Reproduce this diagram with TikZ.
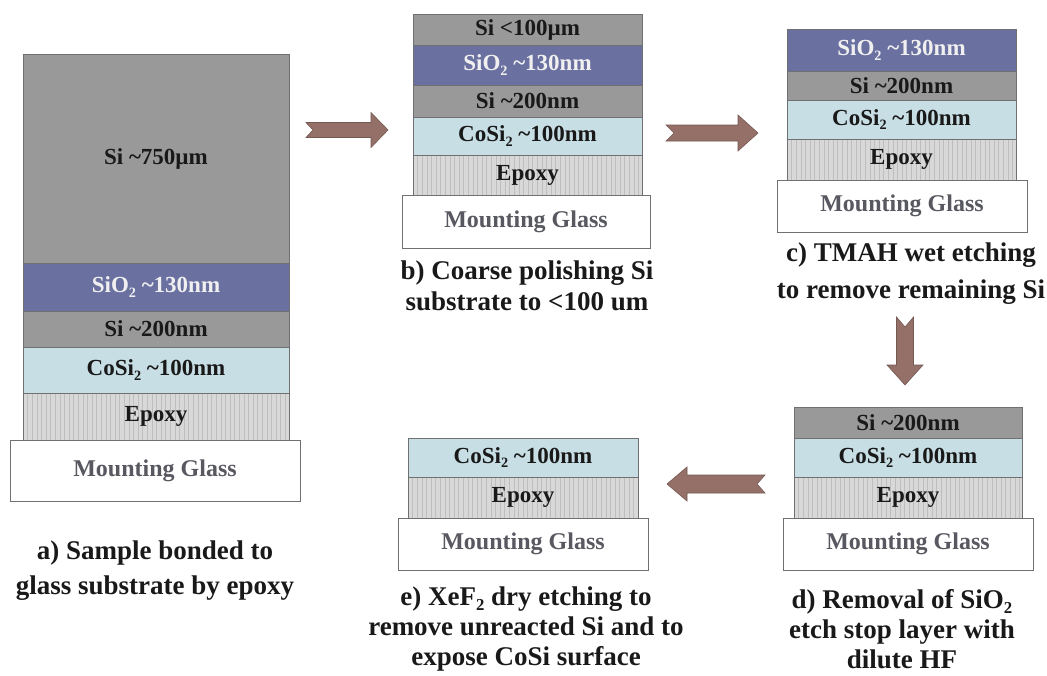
\documentclass[tikz,border=0pt]{standalone}
\usepackage{fontspec}
\usepackage{graphicx}
\setmainfont{Liberation Serif}

% layer and arrow colours
\definecolor{sicol}{RGB}{153,153,153}
\definecolor{oxcol}{RGB}{106,112,160}
\definecolor{cocol}{RGB}{199,222,228}
\definecolor{epcol}{RGB}{216,216,216}
\definecolor{epline}{RGB}{190,190,190}
\definecolor{edgecol}{RGB}{112,112,112}
\definecolor{glasstext}{RGB}{88,88,96}
\definecolor{arrowfill}{RGB}{148,112,104}
\definecolor{arrowedge}{RGB}{116,88,82}
\definecolor{ink}{RGB}{25,25,25}

\tikzset{
  layer/.style={draw=edgecol, line width=0.7pt, inner sep=0pt, text=ink,
    font=\fontsize{23}{23}\selectfont\bfseries},
  silayer/.style={layer, fill=sicol},
  oxlayer/.style={layer, fill=oxcol, text=white!94!black},
  colayer/.style={layer, fill=cocol},
  eplayer/.style={layer, fill=epcol,
    path picture={\foreach \k in {0,...,70}{
      \draw[epline, line width=0.5pt]
        ([xshift=\k*4.6pt]path picture bounding box.south west) --
        ([xshift=\k*4.6pt]path picture bounding box.north west);}}},
  glasslayer/.style={layer, fill=white, text=glasstext,
    font=\fontsize{24}{24}\selectfont\bfseries},
  caption/.style={align=center, text=ink, inner sep=0pt},
  blockarrow/.style={fill=arrowfill, draw=arrowedge, line width=0.6pt, line join=miter},
}

% one layer of a stack: name, style, x1, y1, x2, y2, label
\newcommand\slab[7]{%
  \node[#2, minimum width={(#5)-(#3)}, minimum height={(#6)-(#4)}]
    (#1) at ({(#3+#5)/2},{(#4+#6)/2}) {#7};}

% horizontal block arrow with notched tail: tail, notch, head base, tip, centre y, shaft half, head half
\newcommand\harrow[7]{%
  \draw[blockarrow] ({#1},{#5-#6}) -- ({#3},{#5-#6}) -- ({#3},{#5-#7}) -- ({#4},{#5})
    -- ({#3},{#5+#7}) -- ({#3},{#5+#6}) -- ({#1},{#5+#6}) -- ({#2},{#5}) -- cycle;}

% vertical block arrow: tail, notch, head base, tip, centre x, shaft half, head half
\newcommand\varrow[7]{%
  \draw[blockarrow] ({#5-#6},{#1}) -- ({#5},{#2}) -- ({#5+#6},{#1}) -- ({#5+#6},{#3})
    -- ({#5+#7},{#3}) -- ({#5},{#4}) -- ({#5-#7},{#3}) -- ({#5-#6},{#3}) -- cycle;}

\newcommand\tl{\textasciitilde}
% small lowered index digit
\newcommand\low[1]{\raisebox{-0.2em}{\scalebox{0.62}{#1}}}

\begin{document}
\begin{tikzpicture}[x=1pt, y=-1pt]
  \useasboundingbox (0,0) rectangle (1047,675);
  \fill[white] (0,0) rectangle (1047,675);

  % a) as bonded
  \slab{asi}{silayer}{23}{54}{289}{263}{Si \tl750µm}
  \slab{aox}{oxlayer}{23}{263}{289}{311}{SiO\low{2} \tl130nm}
  \slab{asit}{silayer}{23}{311}{289}{347}{Si \tl200nm}
  \slab{aco}{colayer}{23}{347}{289}{393}{CoSi\low{2} \tl100nm}
  \slab{aep}{eplayer}{23}{393}{289}{440}{Epoxy}
  \slab{agl}{glasslayer}{10}{440}{300}{501}{Mounting Glass}
  \node[caption, font=\fontsize{27}{35}\selectfont\bfseries] (acap) at (155,571)
    {a) Sample bonded to\\glass substrate by epoxy};

  % b) after coarse polishing
  \slab{bsi}{silayer}{413}{14}{642}{45}{Si <100µm}
  \slab{box}{oxlayer}{413}{45}{642}{85}{SiO\low{2} \tl130nm}
  \slab{bsit}{silayer}{413}{85}{642}{117}{Si \tl200nm}
  \slab{bco}{colayer}{413}{117}{642}{155}{CoSi\low{2} \tl100nm}
  \slab{bep}{eplayer}{413}{155}{642}{195}{Epoxy}
  \slab{bgl}{glasslayer}{402}{195}{650}{248}{Mounting Glass}
  \node[caption, font=\fontsize{27}{31}\selectfont\bfseries] (bcap) at (527,286)
    {b) Coarse polishing Si\\substrate to <100 um};

  % c) after TMAH etch
  \slab{cox}{oxlayer}{787}{29}{1016}{71}{SiO\low{2} \tl130nm}
  \slab{csit}{silayer}{787}{71}{1016}{100}{Si \tl200nm}
  \slab{cco}{colayer}{787}{100}{1016}{139}{CoSi\low{2} \tl100nm}
  \slab{cep}{eplayer}{787}{139}{1016}{180}{Epoxy}
  \slab{cgl}{glasslayer}{777}{180}{1027}{232}{Mounting Glass}
  \node[caption, font=\fontsize{27}{37}\selectfont\bfseries] (ccap) at (911,274)
    {c) TMAH wet etching\\to remove remaining Si};

  % d) after HF dip
  \slab{dsit}{silayer}{794}{407}{1022}{438}{Si \tl200nm}
  \slab{dco}{colayer}{794}{438}{1022}{477}{CoSi\low{2} \tl100nm}
  \slab{dep}{eplayer}{794}{477}{1022}{518}{Epoxy}
  \slab{dgl}{glasslayer}{783}{518}{1033}{570}{Mounting Glass}
  \node[caption, font=\fontsize{27}{30}\selectfont\bfseries] (dcap) at (902,629)
    {d) Removal of SiO\low{2}\\etch stop layer with\\dilute HF};

  % e) after XeF2 etch
  \slab{eco}{colayer}{408}{438}{638}{477}{CoSi\low{2} \tl100nm}
  \slab{eep}{eplayer}{408}{477}{638}{518}{Epoxy}
  \slab{egl}{glasslayer}{398}{518}{648}{570}{Mounting Glass}
  \node[caption, font=\fontsize{27}{30}\selectfont\bfseries] (ecap) at (526,629)
    {e) XeF\low{2} dry etching to\\remove unreacted Si and to\\expose CoSi surface};

  % process arrows
  \harrow{306}{313}{371}{388}{130}{7.5}{17.5}
  \harrow{666}{674}{738}{758}{133}{8}{18}
  \varrow{317}{327}{365}{385}{905}{8.5}{18}
  \harrow{765}{757}{687}{667}{484}{9}{17}
\end{tikzpicture}
\end{document}
